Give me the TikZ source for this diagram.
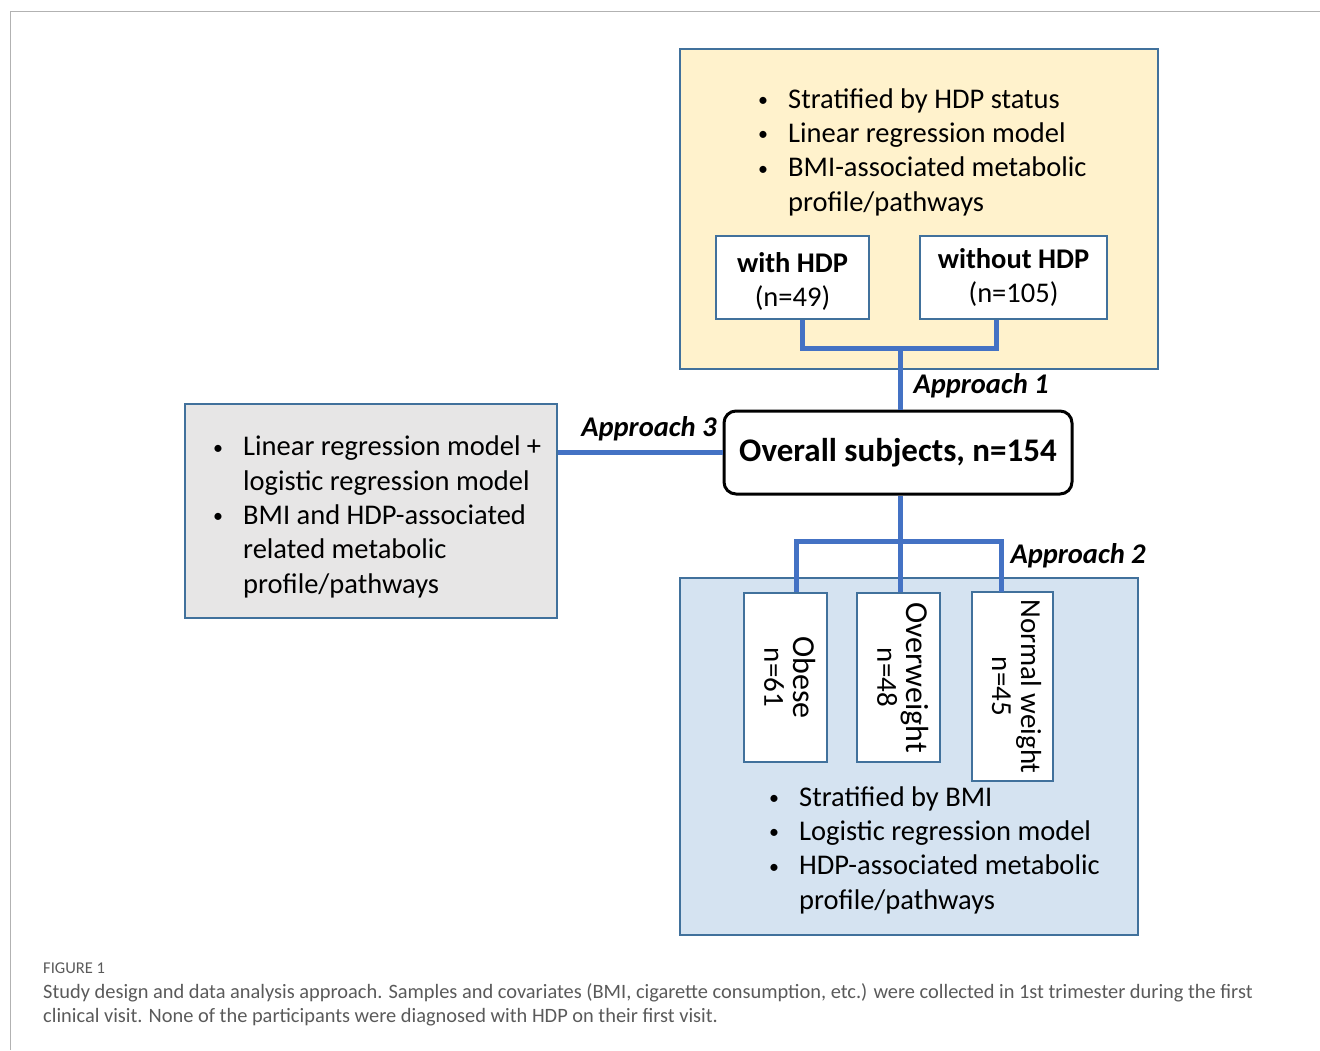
\documentclass[tikz,border=0pt]{standalone}
\usepackage{fontspec}
\setmainfont{Carlito}
\usetikzlibrary{positioning, calc}
\definecolor{boxblue}{HTML}{41719C}
\definecolor{linkblue}{HTML}{4472C4}
\definecolor{paleyellow}{HTML}{FFF2CC}
\definecolor{palegrey}{HTML}{E7E6E6}
\definecolor{paleblue}{HTML}{D5E3F1}
\definecolor{captiongrey}{HTML}{5A5A5A}
\newcommand{\bitem}{\makebox[31pt][l]{\hspace*{1pt}\raisebox{1.5pt}{\scalebox{0.7}{\textbullet}}}}
\newcommand{\bcont}{\hspace*{31pt}}

\begin{document}
\begin{tikzpicture}[x=1pt, y=-1pt,
    panel/.style={draw=boxblue, line width=2pt, minimum width=#1},
    group/.style={draw=boxblue, line width=2pt, fill=white, align=center, inner sep=0pt},
    link/.style={draw=linkblue, line width=5pt},
    approach/.style={font=\fontsize{28.5}{32}\selectfont\bfseries\itshape},
    bullets/.style={align=left, inner sep=0pt, anchor=base west, font=\fontsize{28.5}{34.3}\selectfont}]
    \useasboundingbox (0,0) rectangle (1320,1050);
    \draw[gray!60, line width=1pt] (10,1050) -- (10,11) -- (1320,11);

    % panels
    \node[panel=478, minimum height=320, fill=paleyellow] (hdppanel) at (919,209) {};
    \node[panel=372, minimum height=214, fill=palegrey] (bothpanel) at (371,511) {};
    \node[panel=458, minimum height=357, fill=paleblue] (bmipanel) at (909,756.5) {};

    % bullet texts (placed by the baseline of their last line)
    \node[bullets] (hdptext) at (757,211) {\bitem Stratified by HDP status\\
        \bitem Linear regression model\\
        \bitem BMI-associated metabolic\\
        \bcont profile/pathways};
    \node[bullets] (bothtext) at (212,593) {\bitem Linear regression model +\\
        \bcont logistic regression model\\
        \bitem BMI and HDP-associated\\
        \bcont related metabolic\\
        \bcont profile/pathways};
    \node[bullets] (bmitext) at (768,909) {\bitem Stratified by BMI\\
        \bitem Logistic regression model\\
        \bitem HDP-associated metabolic\\
        \bcont profile/pathways};

    % groups
    \node[group, minimum width=153, minimum height=83, font=\fontsize{28.5}{34}\selectfont] (withhdp) at (792.5,277.5) {\rule{0pt}{27pt}\textbf{with HDP}\\(n=49)};
    \node[group, minimum width=187, minimum height=83, font=\fontsize{28.5}{34}\selectfont] (withouthdp) at (1013.5,277.5) {\textbf{without HDP}\\(n=105)};
    \node[draw, line width=3pt, rounded corners=12pt, fill=white, minimum width=348, minimum height=83,
        font=\fontsize{33}{38}\selectfont\bfseries] (overall) at (898,452.5) {Overall subjects, n=154};

    \node[group, minimum width=83, minimum height=169, font=\fontsize{29}{29}\selectfont] (obese) at (785.5,677.5)
        {\rotatebox{-90}{\begin{tabular}{@{}c@{}}\fontsize{32}{29}\selectfont Obese\\n=61\end{tabular}}};
    \node[group, minimum width=83, minimum height=169, font=\fontsize{29}{29}\selectfont] (overweight) at (898.5,677.5)
        {\rotatebox{-90}{\begin{tabular}{@{}c@{}}\fontsize{32}{29}\selectfont Overweight\\n=48\end{tabular}}};
    \node[group, minimum width=81, minimum height=189, font=\fontsize{29}{29}\selectfont] (normal) at (1012.5,686.5)
        {\rotatebox{-90}{\begin{tabular}{@{}c@{}}Normal weight\\n=45\end{tabular}}};

    % connectors
    \coordinate (hdpjoin) at (900,348);
    \coordinate (bmijoin) at (900,541);
    \draw[link] ([xshift=9.5pt]withhdp.south) |- (hdpjoin) -| ([xshift=-17.5pt]withouthdp.south);
    \draw[link] (hdpjoin) -- (hdpjoin |- overall.north);
    \draw[link] (overall.west -| bothpanel.east) -- (overall.west);
    \draw[link] (bmijoin |- overall.south) -- (bmijoin);
    \draw[link] ([xshift=10.5pt]obese.north) |- (bmijoin) -| ([xshift=-11.5pt]obese.north -| normal.north);
    \draw[link] (bmijoin) -- (bmijoin |- overweight.north);

    % approach labels
    \node[approach, anchor=west] (app1) at (910,386) {Approach 1};
    \node[approach, anchor=east] (app3) at (720,429) {Approach 3};
    \node[approach, anchor=west] (app2) at (1007,556) {Approach 2};

    % caption
    \node[anchor=base west, inner sep=0pt, text=captiongrey, font=\fontsize{16.5}{18}\selectfont] (figlabel) at (43,973) {FIGURE 1};
    \node[anchor=base west, inner sep=0pt, align=left, text=captiongrey, font=\fontsize{20.4}{24}\selectfont] (caption) at (43,1022)
        {Study design and data analysis approach. Samples and covariates (BMI, cigarette consumption, etc.) were collected in 1st trimester during the first\\
        clinical visit. None of the participants were diagnosed with HDP on their first visit.};
\end{tikzpicture}
\end{document}
